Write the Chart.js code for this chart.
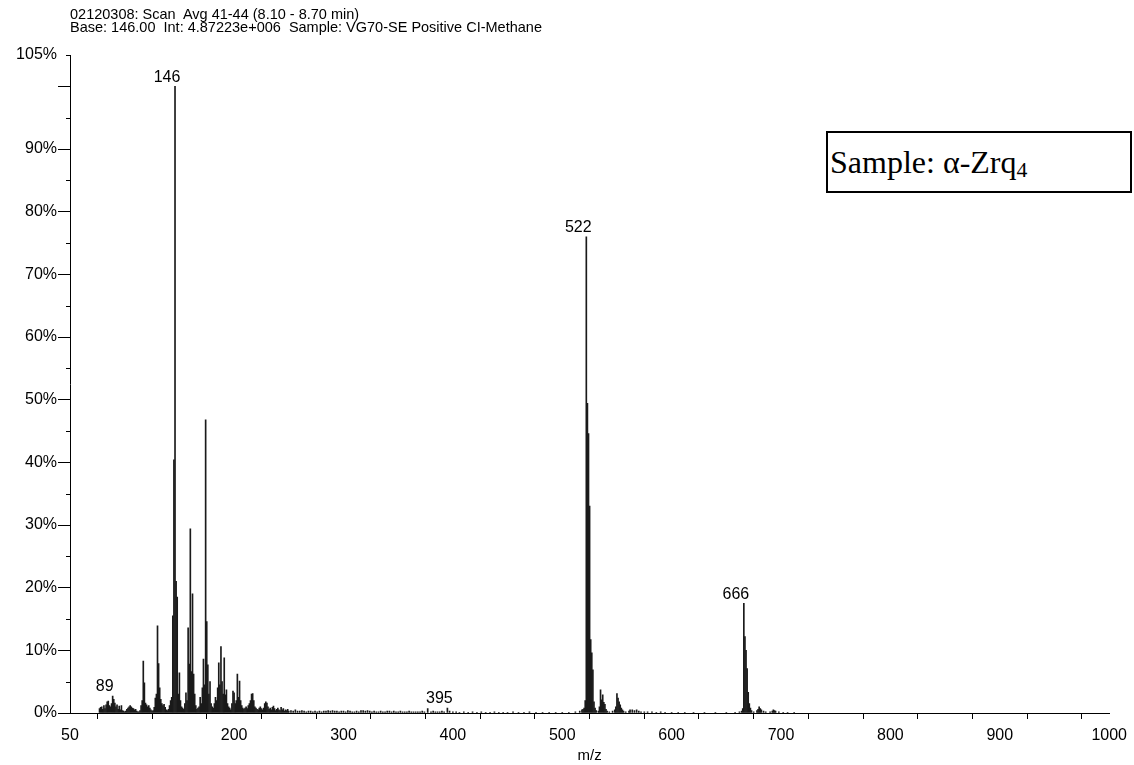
<!DOCTYPE html>
<html lang="en">
<head>
<meta charset="UTF-8">
<title>Mass spectrum - alpha-Zrq4</title>
<script src="https://cdn.jsdelivr.net/npm/chart.js@4.4.0/dist/chart.umd.min.js"></script>
<style>
  body { margin: 0; background: #fff; }
  #wrap { position: relative; width: 1134px; height: 765px; overflow: hidden; }
  #header {
    position: absolute; left: 70px; top: 8px;
    font: 14.5px 'Liberation Sans', Arial, sans-serif; line-height: 13px;
    color: #000; white-space: pre;
  }
  #sampleBox {
    position: absolute; left: 826px; top: 131px; width: 306px; height: 62px;
    box-sizing: border-box; border: 2px solid #000; background: #fff;
    font: 32px 'Liberation Serif', 'Times New Roman', serif; color: #000;
    padding: 10px 0 0 2px; line-height: 38px;
  }
  #sampleBox sub { font-size: 0.68em; vertical-align: -0.18em; line-height: 0; }
</style>
</head>
<body>
<div id="wrap">
  <canvas id="spectrum" width="1134" height="765"></canvas>
  <div id="header">02120308: Scan  Avg 41-44 (8.10 - 8.70 min)
Base: 146.00  Int: 4.87223e+006  Sample: VG70-SE Positive CI-Methane</div>
  <div id="sampleBox"><span>Sample: α-Zrq<sub>4</sub></span></div>
</div>
<script>
// m/z and relative intensity (%), one pair of arrays per region
const lowMz = [77, 78, 79, 80, 81, 82, 83, 84, 85, 86, 87, 88, 89, 90, 91, 92, 93, 94, 95, 96, 97, 98, 99, 100, 101,
  102, 103, 104, 105, 106, 107, 108, 109, 110, 111, 112, 113, 114, 115, 116, 117, 118, 119, 120, 121, 122, 123, 124, 125, 126, 127,
  128, 129, 130, 131, 132, 133, 134, 135, 136, 137, 138, 139, 140, 141, 142, 143, 144, 145, 146, 147, 148, 149, 150, 151, 152];
const lowInt = [0.7, 0.9, 1.0, 0.6, 1.2, 0.7, 1.3, 1.8, 1.9, 1.2, 1.0, 1.5, 2.7, 2.2, 1.6, 1.0, 1.3, 0.6, 1.1, 0.5, 1.2, 0.4, 0.3, 0.2, 0.3,
  0.6, 0.8, 1.0, 1.2, 1.0, 0.8, 0.7, 0.5, 0.6, 0.3, 0.2, 0.2, 0.4, 1.2, 2.0, 8.3, 4.8, 1.6, 1.3, 1.0, 1.2, 0.8, 0.5, 0.3, 0.4, 0.9,
  2.4, 3.0, 13.9, 7.9, 4.0, 2.2, 1.5, 1.2, 1.4, 0.9, 0.5, 0.4, 0.6, 1.2, 2.0, 2.5, 15.5, 40.4, 100, 21.0, 18.5, 3.0, 6.4, 2.0, 1.0];

const midMz = [153, 154, 155, 156, 157, 158, 159, 160, 161, 162, 163, 164, 165, 166, 167, 168, 169, 170, 171, 172, 173, 174, 175, 176, 177, 178,
  179, 180, 181, 182, 183, 184, 185, 186, 187, 188, 189, 190, 191, 192, 193, 194, 195, 196, 197, 198, 199, 200, 201, 202, 203, 204,
  205, 206, 207, 208, 209, 210, 211, 212, 213, 214, 215, 216, 217, 218, 219, 220, 221, 222, 223, 224, 225, 226, 227, 228, 229, 230];
const midInt = [0.8, 0.6, 1.5, 3.2, 2.0, 13.6, 7.8, 29.4, 6.6, 19.0, 6.2, 3.0, 1.2, 0.6, 0.8, 1.0, 2.5, 1.5, 4.0, 8.6, 4.5, 46.8, 14.6, 7.7, 3.0, 5.0,
  1.5, 1.0, 0.8, 1.5, 2.5, 2.0, 4.0, 8.0, 4.5, 10.6, 5.0, 3.0, 8.8, 2.9, 3.7, 1.5, 1.0, 0.8, 0.5, 1.5, 3.5, 3.2, 1.5, 2.0, 6.2, 2.5,
  5.1, 2.0, 1.2, 0.8, 0.6, 0.8, 1.0, 0.7, 1.2, 1.5, 2.0, 3.0, 3.1, 2.0, 1.0, 0.8, 0.6, 0.5, 0.8, 1.0, 0.7, 0.5, 0.8, 1.5, 1.8, 1.6];

const noiseMz = [231, 232, 233, 234, 235, 236, 237, 238, 239, 240, 241, 242, 243, 244, 245, 246, 247, 248, 249, 250,
  252, 254, 256, 258, 260, 262, 264, 266, 268, 270, 272, 274, 276, 278, 280, 282, 284, 286, 288, 290,
  292, 294, 296, 298, 300, 302, 304, 306, 308, 310, 312, 314, 316, 318, 320, 322, 324, 326, 328, 330,
  332, 334, 336, 338, 340, 342, 344, 346, 348, 350, 352, 354, 356, 358, 360, 362, 364, 366, 368, 370,
  372, 374, 377, 380, 382, 384, 386, 388, 390, 392, 395, 397, 400, 403, 406, 410, 414, 418, 422, 426,
  430, 434, 438, 442, 446, 450, 455, 460, 465, 470, 476, 482, 488, 494, 500, 506, 512, 516, 518];
const noiseInt = [1.0, 0.6, 0.8, 0.5, 0.9, 1.1, 0.7, 0.4, 0.6, 0.8, 0.5, 0.4, 0.9, 0.5, 0.7, 0.3, 0.5, 0.4, 0.6, 0.3,
  0.4, 0.3, 0.5, 0.3, 0.3, 0.4, 0.3, 0.2, 0.3, 0.3, 0.2, 0.3, 0.2, 0.3, 0.2, 0.3, 0.3, 0.4, 0.3, 0.4,
  0.3, 0.3, 0.2, 0.3, 0.3, 0.2, 0.4, 0.3, 0.2, 0.2, 0.3, 0.2, 0.4, 0.4, 0.3, 0.4, 0.3, 0.2, 0.3, 0.2,
  0.2, 0.3, 0.2, 0.2, 0.3, 0.3, 0.2, 0.3, 0.2, 0.2, 0.3, 0.2, 0.2, 0.2, 0.3, 0.2, 0.2, 0.2, 0.2, 0.2,
  0.3, 0.2, 0.7, 0.2, 0.3, 0.2, 0.2, 0.2, 0.3, 0.2, 0.8, 0.3, 0.2, 0.2, 0.1, 0.2, 0.1, 0.2, 0.1, 0.2,
  0.1, 0.1, 0.2, 0.1, 0.1, 0.1, 0.2, 0.1, 0.1, 0.2, 0.1, 0.1, 0.1, 0.1, 0.1, 0.1, 0.2, 0.3, 0.5];

const mz522 = [519, 520, 521, 522, 523, 524, 525, 526, 527, 528, 529, 530, 531, 533, 534, 535, 536, 537, 538, 539, 540, 541,
  543, 546, 548, 549, 550, 551, 552, 553, 554, 555, 556, 558, 561, 562, 564, 566, 568, 570, 572, 575];
const int522 = [0.6, 0.8, 2.0, 76.0, 49.4, 44.6, 33.0, 11.7, 9.6, 6.9, 1.8, 0.8, 0.4, 0.3, 1.0, 3.7, 2.1, 2.9, 1.7, 1.4, 0.6, 0.3,
  0.2, 0.3, 0.5, 1.0, 3.1, 2.4, 1.8, 1.3, 0.8, 0.5, 0.3, 0.2, 0.3, 0.5, 0.5, 0.4, 0.5, 0.3, 0.2, 0.2];

const mz666 = [578, 582, 586, 590, 594, 600, 606, 612, 620, 630, 640, 650, 658, 662, 664, 665,
  666, 667, 668, 669, 670, 671, 672, 673, 675, 678, 679, 680, 681, 682, 684, 686, 690, 692, 693, 694, 695, 698, 702, 706, 712];
const int666 = [0.2, 0.2, 0.1, 0.2, 0.1, 0.1, 0.1, 0.1, 0.1, 0.1, 0.1, 0.1, 0.1, 0.2, 0.3, 0.7,
  17.5, 12.2, 10.0, 7.1, 3.3, 1.5, 0.8, 0.4, 0.2, 0.4, 0.6, 1.0, 0.7, 0.5, 0.3, 0.2, 0.2, 0.3, 0.5, 0.4, 0.3, 0.2, 0.1, 0.1, 0.1];

// labelled peaks and axis ticks
const peakLabels = [89, 146, 395, 522, 666];
const xTickValues = [50, 100, 150, 200, 250, 300, 350, 400, 450, 500, 550, 600, 650, 700, 750, 800, 850, 900, 950, 1000];
const xTickLabels = [50, 200, 300, 400, 500, 600, 700, 800, 900, 1000];
const yTickValues = [0, 10, 20, 30, 40, 50, 60, 70, 80, 90, 100, 105];
const yTickLabels = [0, 10, 20, 30, 40, 50, 60, 70, 80, 90, 105];
const yMinorTicks = [5, 15, 25, 35, 45, 55, 65, 75, 85, 95, 105];

const FONT = "'Liberation Sans', Arial, sans-serif";

const regions = [[lowMz, lowInt], [midMz, midInt], [noiseMz, noiseInt], [mz522, int522], [mz666, int666]];
const points = [];
regions.forEach(([m, v]) => m.forEach((x, i) => points.push({ x: x, y: v[i] })));

const spectrumExtras = {
  id: 'spectrumExtras',
  afterDraw(chart) {
    const ctx = chart.ctx;
    const xs = chart.scales.x, ys = chart.scales.y;
    ctx.save();
    // short minor ticks on the y axis
    ctx.strokeStyle = '#000';
    ctx.lineWidth = 1;
    yMinorTicks.forEach(v => {
      const y = Math.round(ys.getPixelForValue(v)) + 0.5;
      ctx.beginPath();
      ctx.moveTo(xs.left - 4, y);
      ctx.lineTo(xs.left, y);
      ctx.stroke();
    });
    // peak labels
    ctx.fillStyle = '#000';
    ctx.font = '16px ' + FONT;
    ctx.textAlign = 'center';
    ctx.textBaseline = 'bottom';
    peakLabels.forEach(m => {
      const p = points.find(pt => pt.x === m);
      ctx.fillText(String(m), xs.getPixelForValue(m) - 8, ys.getPixelForValue(p.y) - 1);
    });
    ctx.restore();
  }
};

new Chart(document.getElementById('spectrum'), {
  type: 'bar',
  data: {
    datasets: [{
      data: points,
      backgroundColor: '#1a1a1a',
      borderWidth: 0,
      barThickness: 1,
      grouped: false
    }]
  },
  options: {
    responsive: false,
    animation: false,
    layout: { padding: { top: 55, right: 22, bottom: 0, left: 0 } },
    plugins: { legend: { display: false }, tooltip: { enabled: false } },
    scales: {
      x: {
        type: 'linear',
        min: 50,
        max: 1000,
        offset: false,
        afterBuildTicks: s => { s.ticks = xTickValues.map(v => ({ value: v })); },
        afterFit: s => { s.height = 52; },
        grid: { drawOnChartArea: false, tickLength: 6, color: '#000' },
        border: { display: true, color: '#000', width: 1 },
        ticks: {
          autoSkip: false, maxRotation: 0, color: '#000', padding: 7,
          font: { family: FONT, size: 16 },
          callback: v => xTickLabels.includes(v) ? String(v) : ''
        },
        title: {
          display: true, text: 'm/z', color: '#000',
          font: { family: FONT, size: 15 }, padding: { top: 0, bottom: 0 }
        }
      },
      y: {
        min: 0,
        max: 105,
        afterBuildTicks: s => { s.ticks = yTickValues.map(v => ({ value: v })); },
        afterFit: s => { s.width = 70; },
        grid: {
          drawOnChartArea: false, tickLength: 12, color: '#000',
          tickColor: c => (c.tick && c.tick.value === 105) ? 'rgba(0,0,0,0)' : '#000'
        },
        border: { display: true, color: '#000', width: 1 },
        ticks: {
          autoSkip: false, color: '#000', padding: 1,
          font: { family: FONT, size: 16 },
          callback: v => yTickLabels.includes(v) ? v + '%' : ''
        }
      }
    }
  },
  plugins: [spectrumExtras]
});
</script>
</body>
</html>
